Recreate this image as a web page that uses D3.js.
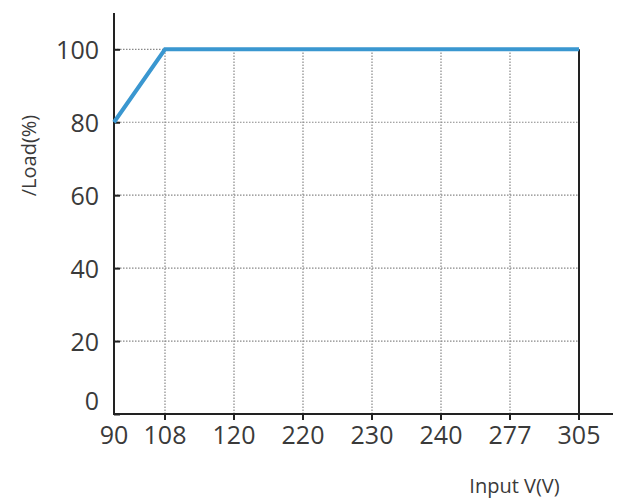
<!DOCTYPE html>
<html>
<head>
<meta charset="utf-8">
<script src="https://cdn.jsdelivr.net/npm/d3@7/dist/d3.min.js"></script>
<style>
  html, body { margin: 0; padding: 0; background: #fff; }
  svg { display: block; }
  text { font-family: "Open Sans", "Noto Sans", sans-serif; fill: #3a3a3a; }
</style>
</head>
<body>
<svg id="chart" width="618" height="500"></svg>
<script>
// Data
const xCategories = ["90", "108", "120", "220", "230", "240", "277", "305"];
const loadValues = [80, 100, 100, 100, 100, 100, 100, 100];
const yTicks = [0, 20, 40, 60, 80, 100];
const xTitle = "Input V(V)";
const yTitle = "/Load(%)";

const svg = d3.select("#chart");
const plotLeft = 114, plotRight = 579, plotTop = 13, plotBottom = 414;

// 90 sits closer to 108 than the rest are spaced
const idx = d3.scaleLinear().domain([0, 1, xCategories.length - 1]).range([plotLeft, 165, plotRight]);
const x = c => idx(xCategories.indexOf(c));
const y = d3.scaleLinear().domain([0, 100]).range([plotBottom, 49.3]);

const g = svg.append("g");

// Grid
g.selectAll(".vgrid").data(xCategories.slice(1, -1)).enter().append("line")
  .attr("x1", d => x(d)).attr("x2", d => x(d))
  .attr("y1", plotBottom).attr("y2", y(100))
  .attr("stroke", "#888").attr("stroke-width", 1.2).attr("stroke-dasharray", "1.5,1.5");
g.selectAll(".hgrid").data(yTicks.filter(t => t > 0)).enter().append("line")
  .attr("x1", plotLeft).attr("x2", plotRight)
  .attr("y1", d => y(d)).attr("y2", d => y(d))
  .attr("stroke", "#888").attr("stroke-width", 1.2).attr("stroke-dasharray", "1.5,1.5");

// Right border at 305
g.append("line").attr("x1", plotRight).attr("x2", plotRight)
  .attr("y1", y(100)).attr("y2", plotBottom)
  .attr("stroke", "#222").attr("stroke-width", 2);

// Y axis
const yAxis = d3.axisLeft(y).tickValues(yTicks).tickSize(-6).tickPadding(15).tickFormat(d3.format("d"));
const ya = g.append("g").attr("transform", `translate(${plotLeft},0)`).call(yAxis);
ya.select(".domain").remove();
ya.selectAll(".tick line").attr("stroke", "#222").attr("stroke-width", 2);
ya.selectAll(".tick text").style("font-size", "25px").attr("fill", "#3a3a3a")
  .attr("dy", d => d === 0 ? "-0.2em" : "0.36em");
g.append("line").attr("x1", plotLeft).attr("x2", plotLeft).attr("y1", plotTop).attr("y2", plotBottom + 1)
  .attr("stroke", "#222").attr("stroke-width", 2);

// X axis
const xa = g.append("g").attr("transform", `translate(0,${plotBottom})`);
const xt = xa.selectAll(".tick").data(xCategories).enter().append("g")
  .attr("transform", d => `translate(${x(d)},0)`);
xt.filter((d, i) => i > 0).append("line").attr("y1", 0).attr("y2", 6)
  .attr("stroke", "#222").attr("stroke-width", 2);
xt.append("text").attr("y", 30).attr("text-anchor", "middle")
  .style("font-size", "25px").text(d => d);
g.append("line").attr("x1", plotLeft - 1).attr("x2", 613).attr("y1", plotBottom).attr("y2", plotBottom)
  .attr("stroke", "#222").attr("stroke-width", 2);

// Line
const line = d3.line().x((d, i) => x(xCategories[i])).y(d => y(d));
g.append("path").datum(loadValues).attr("d", line)
  .attr("fill", "none").attr("stroke", "#3a97d0").attr("stroke-width", 4)
  .attr("stroke-linejoin", "miter");

// Titles
svg.append("text").attr("x", 514.5).attr("y", 493).attr("text-anchor", "middle")
  .style("font-size", "20px").text(xTitle);
svg.append("text").attr("transform", "translate(36,155.5) rotate(-90)")
  .attr("text-anchor", "middle").style("font-size", "20px").text(yTitle);
</script>
</body>
</html>
